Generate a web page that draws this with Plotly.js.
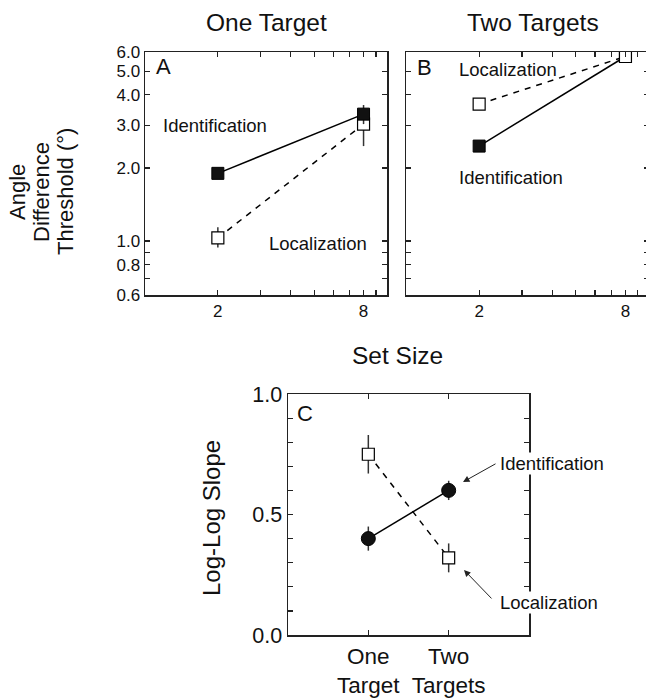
<!DOCTYPE html>
<html>
<head>
<meta charset="utf-8">
<script src="https://cdn.plot.ly/plotly-3.0.1.min.js"></script>
<style>
html,body{margin:0;padding:0;overflow:hidden;background:#fff;}
#chart{width:652px;height:700px;}
</style>
</head>
<body>
<div id="chart"></div>
<script>
// ---- data ----
const setSize = [2, 8];
const setSizeTickVals = [2, 3, 4, 5, 6, 7, 8, 9];
const setSizeTickText = ['2', '', '', '', '', '', '8', ''];
const thrTickVals = [0.6, 0.7, 0.8, 0.9, 1, 2, 3, 4, 5, 6];
const thrTickText = ['0.6', '', '0.8', '', '1.0', '2.0', '3.0', '4.0', '5.0', '6.0'];

// Panel A: one target
const oneIdent = [1.9, 3.33];
const oneIdentErrPlus = [0.07, 0.3];
const oneIdentErrMinus = [0.08, 0.3];
const oneLoc = [1.03, 3.03];
const oneLocErrPlus = [0.11, 0.3];
const oneLocErrMinus = [0.09, 0.57];

// Panel B: two targets
const twoIdent = [2.46, 5.75];
const twoIdentErr = [0.05, 0.1];
const twoLoc = [3.66, 5.75];
const twoLocErr = [0.15, 0.12];

// Panel C: log-log slopes
const conditions = ['One Target', 'Two Targets'];
const conditionLabels = ['One<br>Target', 'Two<br>Targets'];
const slopeIdent = [0.40, 0.60];
const slopeIdentErr = [0.05, 0.04];
const slopeLoc = [0.75, 0.32];
const slopeLocErr = [0.08, 0.06];
const slopeTickVals = [0, 0.1, 0.2, 0.3, 0.4, 0.5, 0.6, 0.7, 0.8, 0.9, 1.0];
const slopeTickText = ['0.0', '', '', '', '', '0.5', '', '', '', '', '1.0'];

// ---- layout helpers ----
const W = 652, H = 700;
const px = v => v / W;
const py = v => 1 - v / H;
const FONT = 'Liberation Sans, Arial, Helvetica, sans-serif';

const errStyle = (plus, minus) => ({
  type: 'data', symmetric: minus === undefined, array: plus,
  arrayminus: minus, color: '#333', thickness: 1.5, width: 0
});

const traces = [
  // Panel A
  { x: setSize, y: oneLoc, xaxis: 'x', yaxis: 'y', mode: 'lines+markers',
    line: { color: '#000', width: 1.5, dash: '6px,6px' },
    marker: { symbol: 'square', size: 12, color: '#fff', line: { color: '#000', width: 1.2 } },
    error_y: errStyle(oneLocErrPlus, oneLocErrMinus) },
  { x: setSize, y: oneIdent, xaxis: 'x', yaxis: 'y', mode: 'lines+markers',
    line: { color: '#000', width: 1.5 },
    marker: { symbol: 'square', size: 12, color: '#111', line: { color: '#000', width: 1 } },
    error_y: errStyle(oneIdentErrPlus, oneIdentErrMinus) },
  // Panel B
  { x: setSize, y: twoIdent, xaxis: 'x2', yaxis: 'y2', mode: 'lines+markers',
    line: { color: '#000', width: 1.5 },
    marker: { symbol: 'square', size: 12, color: '#111', line: { color: '#000', width: 1 } },
    error_y: errStyle(twoIdentErr) },
  { x: setSize, y: twoLoc, xaxis: 'x2', yaxis: 'y2', mode: 'lines+markers',
    line: { color: '#000', width: 1.5, dash: '6px,6px' },
    marker: { symbol: 'square', size: 12, color: '#fff', line: { color: '#000', width: 1.2 } },
    error_y: errStyle(twoLocErr) },
  // Panel C
  { x: conditions, y: slopeLoc, xaxis: 'x3', yaxis: 'y3', mode: 'lines+markers',
    line: { color: '#000', width: 1.5, dash: '6px,6px' },
    marker: { symbol: 'square', size: 12, color: '#fff', line: { color: '#000', width: 1.2 } },
    error_y: errStyle(slopeLocErr) },
  { x: conditions, y: slopeIdent, xaxis: 'x3', yaxis: 'y3', mode: 'lines+markers',
    line: { color: '#000', width: 1.5 },
    marker: { symbol: 'circle', size: 14, color: '#111', line: { color: '#000', width: 1 } },
    error_y: errStyle(slopeIdentErr) }
];

const axBase = {
  showline: true, linecolor: '#222', linewidth: 1.5, mirror: 'ticks',
  ticks: 'inside', ticklen: 5, tickwidth: 1.2, tickcolor: '#222',
  showgrid: false, zeroline: false, fixedrange: true,
  tickfont: { family: FONT, size: 17, color: '#111' }
};

function label(text, x, y, size, extra) {
  return Object.assign({
    text: text, x: px(x), y: py(y), xref: 'paper', yref: 'paper',
    xanchor: 'center', yanchor: 'middle', showarrow: false,
    font: { family: FONT, size: size, color: '#111' }
  }, extra || {});
}

const layout = {
  width: W, height: H,
  margin: { l: 0, r: 0, t: 0, b: 0 },
  paper_bgcolor: '#fff', plot_bgcolor: '#fff',
  showlegend: false,
  font: { family: FONT, color: '#111' },
  xaxis: Object.assign({}, axBase, {
    type: 'log', range: [0, 1], domain: [px(145), px(387)], anchor: 'y',
    tickmode: 'array', tickvals: setSizeTickVals, ticktext: setSizeTickText
  }),
  yaxis: Object.assign({}, axBase, {
    type: 'log', range: [Math.log10(0.6), Math.log10(6)], domain: [py(295), py(52)], anchor: 'x',
    tickmode: 'array', tickvals: thrTickVals, ticktext: thrTickText
  }),
  xaxis2: Object.assign({}, axBase, {
    type: 'log', range: [0, 1], domain: [px(406), px(649)], anchor: 'y2',
    tickmode: 'array', tickvals: setSizeTickVals, ticktext: setSizeTickText
  }),
  yaxis2: Object.assign({}, axBase, {
    type: 'log', range: [Math.log10(0.6), Math.log10(6)], domain: [py(295), py(52)], anchor: 'x2',
    tickmode: 'array', tickvals: thrTickVals, showticklabels: false
  }),
  xaxis3: Object.assign({}, axBase, {
    type: 'category', range: [-1, 2], domain: [px(288), px(529)], anchor: 'y3',
    tickmode: 'array', tickvals: conditions, ticktext: conditionLabels,
    tickfont: { family: FONT, size: 22.5, color: '#111' }
  }),
  yaxis3: Object.assign({}, axBase, {
    range: [0, 1], domain: [py(635), py(394)], anchor: 'x3',
    tickmode: 'array', tickvals: slopeTickVals, ticktext: slopeTickText,
    tickfont: { family: FONT, size: 21.5, color: '#111' }
  }),
  annotations: [
    label('One Target', 266, 23, 24.5),
    label('Two Targets', 533, 23, 24.5),
    label('Set Size', 397, 355, 24.5),
    label('Angle', 18, 192, 22, { textangle: -90 }),
    label('Difference', 42, 192, 22, { textangle: -90 }),
    label('Threshold (°)', 66, 192, 22, { textangle: -90 }),
    label('Log-Log Slope', 211, 518, 24, { textangle: -90 }),
    label('A', 154, 66, 22, { xanchor: 'left' }),
    label('B', 415, 67, 22, { xanchor: 'left' }),
    label('C', 295, 413, 22, { xanchor: 'left' }),
    label('Identification', 215, 125, 18.5),
    label('Localization', 318, 243, 18.5),
    label('Localization', 508, 70, 18.5),
    label('Identification', 511, 177, 18.5),
    label('Identification', 499, 463, 18.5, { xanchor: 'left', bgcolor: '#fff', borderpad: 0 }),
    label('Localization', 499, 602, 18.5, { xanchor: 'left', bgcolor: '#fff', borderpad: 0 }),
    { text: ' ', x: px(463), y: py(482), xref: 'paper', yref: 'paper', showarrow: true,
      ax: 34, ay: -19, arrowhead: 2, arrowsize: 1.3, arrowwidth: 1, arrowcolor: '#222',
      font: { size: 1 } },
    { text: ' ', x: px(464), y: py(570), xref: 'paper', yref: 'paper', showarrow: true,
      ax: 29, ay: 30, arrowhead: 2, arrowsize: 1.3, arrowwidth: 1, arrowcolor: '#222',
      font: { size: 1 } }
  ]
};

Plotly.newPlot('chart', traces, layout, { displayModeBar: false, staticPlot: true });
</script>
</body>
</html>
